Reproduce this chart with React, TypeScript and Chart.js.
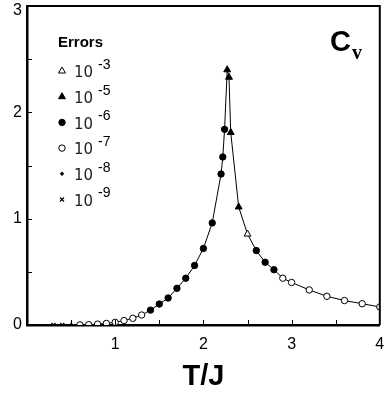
import React, { useEffect, useRef } from 'react';
import { Chart, registerables } from 'chart.js';

Chart.register(...registerables);

// ---- data (T/J, Cv) grouped by error level ----
const tri3T = [2.5];
const tri3Cv = [0.855];
const tri5T = [2.27, 2.29, 2.31, 2.4];
const tri5Cv = [2.4, 2.33, 1.81, 1.11];
const dot6T = [1.4, 1.5, 1.6, 1.7, 1.8, 1.9, 2.0, 2.1, 2.2, 2.22, 2.24, 2.6, 2.7, 2.8];
const dot6Cv = [0.14, 0.197, 0.254, 0.345, 0.44, 0.56, 0.72, 0.96, 1.42, 1.58, 1.84, 0.7, 0.59, 0.52];
const ring7T = [0.6, 0.7, 0.8, 0.9, 1.0, 1.1, 1.2, 1.3, 2.9, 3.0, 3.2, 3.4, 3.6, 3.8, 4.0];
const ring7Cv = [0.001, 0.003, 0.008, 0.015, 0.025, 0.042, 0.063, 0.094, 0.44, 0.4, 0.33, 0.27, 0.23, 0.2, 0.17];
const dia8T = [0.5];
const dia8Cv = [0.0002];
const cross9T = [0.3, 0.4];
const cross9Cv = [0, 0];

const legendExponents = ['-3', '-5', '-6', '-7', '-8', '-9'];
const legendTitle = 'Errors';
const legendBase = '10';
const xTitle = 'T/J';

const pts = (xs: number[], ys: number[]) => xs.map((x, i) => ({ x, y: ys[i] }));

function drawMarker(ctx: CanvasRenderingContext2D, kind: string, x: number, y: number) {
  ctx.save();
  ctx.strokeStyle = '#000';
  ctx.fillStyle = '#000';
  ctx.lineWidth = 1;
  ctx.beginPath();
  if (kind === 'tri' || kind === 'triOpen') {
    const r = 4;
    for (let k = 0; k < 3; k++) {
      const a = (k * 2 * Math.PI) / 3;
      const px = x + Math.sin(a) * r;
      const py = y - Math.cos(a) * r;
      if (k === 0) ctx.moveTo(px, py); else ctx.lineTo(px, py);
    }
    ctx.closePath();
    if (kind === 'triOpen') { ctx.fillStyle = '#fff'; }
    ctx.fill();
    ctx.stroke();
  } else if (kind === 'dot' || kind === 'ring') {
    ctx.arc(x, y, 3.2, 0, Math.PI * 2);
    if (kind === 'ring') ctx.fillStyle = '#fff';
    ctx.fill();
    ctx.stroke();
  } else if (kind === 'dia') {
    const r = 2.2;
    ctx.moveTo(x, y - r); ctx.lineTo(x + r, y); ctx.lineTo(x, y + r); ctx.lineTo(x - r, y);
    ctx.closePath();
    ctx.fill();
  } else if (kind === 'cross') {
    const r = 2;
    ctx.lineWidth = 1.2;
    ctx.moveTo(x - r, y - r); ctx.lineTo(x + r, y + r);
    ctx.moveTo(x + r, y - r); ctx.lineTo(x - r, y + r);
    ctx.stroke();
  }
  ctx.restore();
}

const legendKinds = ['triOpen', 'tri', 'dot', 'ring', 'dia', 'cross'];

const decorPlugin = {
  id: 'decor',
  beforeDraw(chart: any) {
    // nudge the top y label down so it stays inside the canvas
    const ys = chart.scales.y;
    const items = ys.getLabelItems(chart.chartArea);
    items.forEach((it: any) => {
      if (it.label === '3' && !it._nudged) {
        it._nudged = true;
        const t = it.options.translation;
        it.options.translation = [t[0], t[1] + 5];
      }
    });
  },
  afterDraw(chart: any) {
    const { ctx, chartArea } = chart;
    const xs = chart.scales.x;
    const ys = chart.scales.y;
    ctx.save();
    // top & right frame
    ctx.strokeStyle = '#000';
    ctx.lineWidth = 2;
    ctx.beginPath();
    ctx.moveTo(chartArea.left, chartArea.top);
    ctx.lineTo(chartArea.right, chartArea.top);
    ctx.lineTo(chartArea.right, chartArea.bottom);
    ctx.stroke();
    // inward ticks
    ctx.lineWidth = 1;
    ctx.beginPath();
    for (let v = 0.5; v < 4; v += 0.5) {
      const px = Math.round(xs.getPixelForValue(v)) + 0.5;
      ctx.moveTo(px, chartArea.bottom);
      ctx.lineTo(px, chartArea.bottom - 5);
    }
    for (let v = 0.5; v < 3; v += 0.5) {
      const py = Math.round(ys.getPixelForValue(v)) + 0.5;
      ctx.moveTo(chartArea.left, py);
      ctx.lineTo(chartArea.left + 5, py);
    }
    ctx.stroke();

    // legend
    ctx.fillStyle = '#000';
    ctx.textBaseline = 'middle';
    ctx.textAlign = 'left';
    ctx.font = 'bold 15px "Liberation Sans", Arial, sans-serif';
    ctx.fillText(legendTitle, 58, 43);
    legendExponents.forEach((e, i) => {
      const ry = 71 + i * 25.7;
      drawMarker(ctx, legendKinds[i], 62, ry);
      ctx.fillStyle = '#222';
      ctx.font = '15px "DejaVu Sans", sans-serif';
      ctx.fillText(legendBase, 74, ry + 2.5);
      ctx.fillStyle = '#000';
      ctx.font = '14px "Liberation Sans", Arial, sans-serif';
      ctx.fillText(e, 98, ry - 6);
    });

    // Cv label
    ctx.textBaseline = 'alphabetic';
    ctx.font = 'bold 29px "Liberation Sans", Arial, sans-serif';
    ctx.fillText('C', 330, 51);
    ctx.font = 'bold 20px "Liberation Serif", serif';
    ctx.fillText('v', 352, 59);
    ctx.restore();
  },
};

export default function App() {
  const ref = useRef<HTMLCanvasElement | null>(null);
  useEffect(() => {
    document.body.style.margin = '0';
    if (!ref.current) return;
    const all = [
      ...pts(tri3T, tri3Cv), ...pts(tri5T, tri5Cv), ...pts(dot6T, dot6Cv),
      ...pts(ring7T, ring7Cv), ...pts(dia8T, dia8Cv), ...pts(cross9T, cross9Cv),
    ].sort((a, b) => a.x - b.x);
    const chart = new Chart(ref.current, {
      type: 'scatter',
      data: {
        datasets: [
          { label: '1e-3', data: pts(tri3T, tri3Cv), pointStyle: 'triangle', pointRadius: 4, backgroundColor: '#fff', borderColor: '#000', borderWidth: 1, order: 1 },
          { label: '1e-5', data: pts(tri5T, tri5Cv), pointStyle: 'triangle', pointRadius: 4, backgroundColor: '#000', borderColor: '#000', borderWidth: 1, order: 1 },
          { label: '1e-6', data: pts(dot6T, dot6Cv), pointStyle: 'circle', pointRadius: 3.2, backgroundColor: '#000', borderColor: '#000', borderWidth: 1, order: 1 },
          { label: '1e-7', data: pts(ring7T, ring7Cv), pointStyle: 'circle', pointRadius: 3.2, backgroundColor: '#fff', borderColor: '#000', borderWidth: 1, order: 1 },
          { label: '1e-8', data: pts(dia8T, dia8Cv), pointStyle: 'rectRot', pointRadius: 2.2, backgroundColor: '#000', borderColor: '#000', borderWidth: 0.5, order: 1 },
          { label: '1e-9', data: pts(cross9T, cross9Cv), pointStyle: 'crossRot', pointRadius: 2.8, backgroundColor: '#000', borderColor: '#000', borderWidth: 1.2, order: 1 },
          { label: 'curve', data: all, showLine: true, pointRadius: 0, borderColor: '#000', borderWidth: 1, tension: 0, order: 5 } as any,
        ],
      },
      options: {
        responsive: false,
        animation: false,
        events: [],
        layout: { padding: { top: 6, right: 2, left: 0, bottom: 0 } },
        plugins: { legend: { display: false }, tooltip: { enabled: false } },
        scales: {
          x: {
            type: 'linear', min: 0, max: 4,
            grid: { display: true, drawOnChartArea: false, drawTicks: false },
            border: { display: true, width: 2.5, color: '#000' },
            ticks: {
              stepSize: 1, padding: 10, color: '#000',
              font: { family: '"Liberation Sans", Arial, sans-serif', size: 16 },
              callback: (v: any) => (v === 0 ? '' : String(v)),
            },
            title: {
              display: true, text: xTitle, color: '#000',
              font: { family: '"Liberation Sans", Arial, sans-serif', size: 29, weight: 'bold' },
              padding: { top: 0, bottom: 0 },
            },
            afterFit: (s: any) => { s.height = 69; s.paddingLeft = 0; s.paddingRight = 0; },
          },
          y: {
            type: 'linear', min: 0, max: 3,
            grid: { display: true, drawOnChartArea: false, drawTicks: false },
            border: { display: true, width: 2.5, color: '#000' },
            ticks: {
              stepSize: 1, padding: 5, color: '#000',
              font: { family: '"Liberation Sans", Arial, sans-serif', size: 16 },
            },
            afterFit: (s: any) => { s.width = 27; s.paddingTop = 0; s.paddingBottom = 0; },
          },
        },
      } as any,
      plugins: [decorPlugin],
    });
    return () => chart.destroy();
  }, []);
  return (
    <div style={{ width: 385, height: 394, overflow: 'hidden' }}>
      <canvas ref={ref} width={385} height={394} style={{ display: 'block' }} />
    </div>
  );
}
